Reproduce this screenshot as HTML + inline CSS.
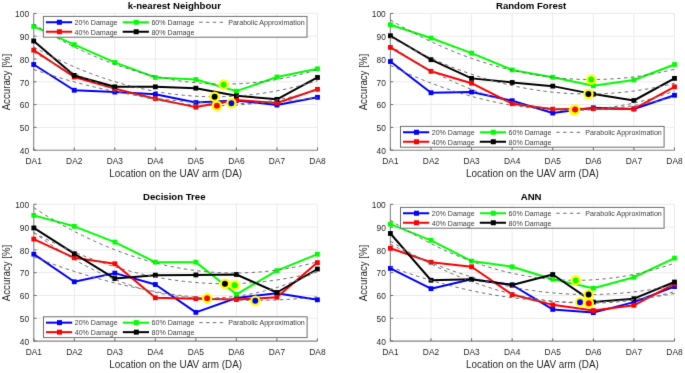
<!DOCTYPE html>
<html><head><meta charset="utf-8"><style>
html,body{margin:0;padding:0;background:#fff;}
body{width:685px;height:373px;overflow:hidden;}
svg{display:block;font-family:"Liberation Sans",sans-serif;}

</style></head><body>
<svg width="685" height="373" viewBox="0 0 685 373">
<defs><filter id="bl" color-interpolation-filters="sRGB" x="0" y="0" width="685" height="373" filterUnits="userSpaceOnUse"><feConvolveMatrix order="3" kernelMatrix="0 1 0 1 8 1 0 1 0" divisor="12" edgeMode="duplicate"/></filter></defs><g filter="url(#bl)"><rect width="685" height="373" fill="#fff"/>
<path d="M33.7 13.4V150.2M74.24 13.4V150.2M114.79 13.4V150.2M155.33 13.4V150.2M195.87 13.4V150.2M236.41 13.4V150.2M276.96 13.4V150.2M317.5 13.4V150.2M33.7 150.2H317.5M33.7 127.4H317.5M33.7 104.6H317.5M33.7 81.8H317.5M33.7 59H317.5M33.7 36.2H317.5M33.7 13.4H317.5" stroke="#ebebeb" stroke-width="1" fill="none"/>
<path d="M33.7 13.4V150.2H317.5" stroke="#8a8a8a" stroke-width="1.1" fill="none"/>
<path d="M33.7 150.2v-2.8M74.24 150.2v-2.8M114.79 150.2v-2.8M155.33 150.2v-2.8M195.87 150.2v-2.8M236.41 150.2v-2.8M276.96 150.2v-2.8M317.5 150.2v-2.8M33.7 150.2h2.8M33.7 127.4h2.8M33.7 104.6h2.8M33.7 81.8h2.8M33.7 59h2.8M33.7 36.2h2.8M33.7 13.4h2.8" stroke="#6a6a6a" stroke-width="1" fill="none"/>
<g fill="#262626"><text transform="translate(29.1 153.9) scale(1 1.14)" font-size="8.4" text-anchor="end">40</text><text transform="translate(29.1 131.1) scale(1 1.14)" font-size="8.4" text-anchor="end">50</text><text transform="translate(29.1 108.3) scale(1 1.14)" font-size="8.4" text-anchor="end">60</text><text transform="translate(29.1 85.5) scale(1 1.14)" font-size="8.4" text-anchor="end">70</text><text transform="translate(29.1 62.7) scale(1 1.14)" font-size="8.4" text-anchor="end">80</text><text transform="translate(29.1 39.9) scale(1 1.14)" font-size="8.4" text-anchor="end">90</text><text transform="translate(29.1 17.1) scale(1 1.14)" font-size="8.4" text-anchor="end">100</text><text transform="translate(33.7 163.6) scale(1 1.14)" font-size="8.4" text-anchor="middle">DA1</text><text transform="translate(74.24 163.6) scale(1 1.14)" font-size="8.4" text-anchor="middle">DA2</text><text transform="translate(114.79 163.6) scale(1 1.14)" font-size="8.4" text-anchor="middle">DA3</text><text transform="translate(155.33 163.6) scale(1 1.14)" font-size="8.4" text-anchor="middle">DA4</text><text transform="translate(195.87 163.6) scale(1 1.14)" font-size="8.4" text-anchor="middle">DA5</text><text transform="translate(236.41 163.6) scale(1 1.14)" font-size="8.4" text-anchor="middle">DA6</text><text transform="translate(276.96 163.6) scale(1 1.14)" font-size="8.4" text-anchor="middle">DA7</text><text transform="translate(317.5 163.6) scale(1 1.14)" font-size="8.4" text-anchor="middle">DA8</text></g>
<text transform="translate(175.6 177.3) scale(1 1.12)" font-size="9.9" text-anchor="middle" fill="#262626">Location on the UAV arm (DA)</text>
<text transform="translate(10.1 82.1) rotate(-90) scale(1 1.12)" text-anchor="middle" font-size="9.7" fill="#262626">Accuracy [%]</text>
<text x="174.3" y="9.2" text-anchor="middle" font-size="9.6" font-weight="bold" fill="#000">k-nearest Neighbour</text>
<polyline points="33.7,64.47 74.24,90.24 114.79,92.06 155.33,94.34 195.87,102.55 236.41,100.5 276.96,105.06 317.5,97.3" stroke="#0000ff" stroke-width="2.0" fill="none" stroke-linejoin="round"/>
<rect x="31.3" y="62.07" width="4.8" height="4.8" fill="#0000ff"/><rect x="71.84" y="87.84" width="4.8" height="4.8" fill="#0000ff"/><rect x="112.39" y="89.66" width="4.8" height="4.8" fill="#0000ff"/><rect x="152.93" y="91.94" width="4.8" height="4.8" fill="#0000ff"/><rect x="193.47" y="100.15" width="4.8" height="4.8" fill="#0000ff"/><rect x="234.01" y="98.1" width="4.8" height="4.8" fill="#0000ff"/><rect x="274.56" y="102.66" width="4.8" height="4.8" fill="#0000ff"/><rect x="315.1" y="94.9" width="4.8" height="4.8" fill="#0000ff"/>
<polyline points="33.7,50.11 74.24,77.01 114.79,88.64 155.33,98.67 195.87,107.11 236.41,100.04 276.96,103 317.5,89.32" stroke="#ff0000" stroke-width="2.0" fill="none" stroke-linejoin="round"/>
<rect x="31.3" y="47.71" width="4.8" height="4.8" fill="#ff0000"/><rect x="71.84" y="74.61" width="4.8" height="4.8" fill="#ff0000"/><rect x="112.39" y="86.24" width="4.8" height="4.8" fill="#ff0000"/><rect x="152.93" y="96.27" width="4.8" height="4.8" fill="#ff0000"/><rect x="193.47" y="104.71" width="4.8" height="4.8" fill="#ff0000"/><rect x="234.01" y="97.64" width="4.8" height="4.8" fill="#ff0000"/><rect x="274.56" y="100.6" width="4.8" height="4.8" fill="#ff0000"/><rect x="315.1" y="86.92" width="4.8" height="4.8" fill="#ff0000"/>
<polyline points="33.7,26.4 74.24,44.64 114.79,62.42 155.33,77.47 195.87,79.52 236.41,91.15 276.96,77.01 317.5,68.8" stroke="#00ff00" stroke-width="2.0" fill="none" stroke-linejoin="round"/>
<rect x="31.3" y="24" width="4.8" height="4.8" fill="#00ff00"/><rect x="71.84" y="42.24" width="4.8" height="4.8" fill="#00ff00"/><rect x="112.39" y="60.02" width="4.8" height="4.8" fill="#00ff00"/><rect x="152.93" y="75.07" width="4.8" height="4.8" fill="#00ff00"/><rect x="193.47" y="77.12" width="4.8" height="4.8" fill="#00ff00"/><rect x="234.01" y="88.75" width="4.8" height="4.8" fill="#00ff00"/><rect x="274.56" y="74.61" width="4.8" height="4.8" fill="#00ff00"/><rect x="315.1" y="66.4" width="4.8" height="4.8" fill="#00ff00"/>
<polyline points="33.7,40.99 74.24,75.42 114.79,86.82 155.33,86.82 195.87,88.18 236.41,95.71 276.96,99.36 317.5,77.47" stroke="#000000" stroke-width="2.0" fill="none" stroke-linejoin="round"/>
<rect x="31.3" y="38.59" width="4.8" height="4.8" fill="#000000"/><rect x="71.84" y="73.02" width="4.8" height="4.8" fill="#000000"/><rect x="112.39" y="84.42" width="4.8" height="4.8" fill="#000000"/><rect x="152.93" y="84.42" width="4.8" height="4.8" fill="#000000"/><rect x="193.47" y="85.78" width="4.8" height="4.8" fill="#000000"/><rect x="234.01" y="93.31" width="4.8" height="4.8" fill="#000000"/><rect x="274.56" y="96.96" width="4.8" height="4.8" fill="#000000"/><rect x="315.1" y="75.07" width="4.8" height="4.8" fill="#000000"/>
<polyline points="33.7,69.49 37.75,70.85 41.81,72.19 45.86,73.5 49.92,74.78 53.97,76.03 58.03,77.26 62.08,78.45 66.13,79.62 70.19,80.76 74.24,81.88 78.3,82.96 82.35,84.02 86.41,85.05 90.46,86.05 94.51,87.02 98.57,87.97 102.62,88.89 106.68,89.78 110.73,90.64 114.79,91.47 118.84,92.28 122.89,93.06 126.95,93.81 131,94.53 135.06,95.23 139.11,95.89 143.17,96.53 147.22,97.14 151.27,97.73 155.33,98.28 159.38,98.81 163.44,99.31 167.49,99.78 171.55,100.22 175.6,100.64 179.65,101.03 183.71,101.39 187.76,101.72 191.82,102.02 195.87,102.3 199.93,102.55 203.98,102.77 208.03,102.96 212.09,103.12 216.14,103.26 220.2,103.37 224.25,103.45 228.31,103.5 232.36,103.53 236.41,103.53 240.47,103.49 244.52,103.44 248.58,103.35 252.63,103.23 256.69,103.09 260.74,102.92 264.79,102.72 268.85,102.5 272.9,102.24 276.96,101.96 281.01,101.65 285.07,101.31 289.12,100.95 293.17,100.56 297.23,100.13 301.28,99.68 305.34,99.21 309.39,98.7 313.45,98.17 317.5,97.61" stroke="#6b6b6b" stroke-width="1.0" stroke-dasharray="3.4 3.4" fill="none"/>
<polyline points="33.7,52.32 37.75,54.66 41.81,56.94 45.86,59.17 49.92,61.35 53.97,63.47 58.03,65.55 62.08,67.57 66.13,69.54 70.19,71.45 74.24,73.32 78.3,75.13 82.35,76.89 86.41,78.6 90.46,80.26 94.51,81.86 98.57,83.41 102.62,84.91 106.68,86.36 110.73,87.75 114.79,89.09 118.84,90.38 122.89,91.62 126.95,92.8 131,93.94 135.06,95.02 139.11,96.05 143.17,97.02 147.22,97.95 151.27,98.82 155.33,99.64 159.38,100.41 163.44,101.12 167.49,101.79 171.55,102.4 175.6,102.95 179.65,103.46 183.71,103.91 187.76,104.32 191.82,104.67 195.87,104.96 199.93,105.21 203.98,105.4 208.03,105.54 212.09,105.63 216.14,105.66 220.2,105.65 224.25,105.58 228.31,105.46 232.36,105.29 236.41,105.06 240.47,104.78 244.52,104.45 248.58,104.07 252.63,103.64 256.69,103.15 260.74,102.61 264.79,102.02 268.85,101.38 272.9,100.68 276.96,99.93 281.01,99.13 285.07,98.28 289.12,97.38 293.17,96.42 297.23,95.41 301.28,94.35 305.34,93.23 309.39,92.07 313.45,90.85 317.5,89.58" stroke="#6b6b6b" stroke-width="1.0" stroke-dasharray="3.4 3.4" fill="none"/>
<polyline points="33.7,24.07 37.75,26.6 41.81,29.08 45.86,31.5 49.92,33.86 53.97,36.18 58.03,38.43 62.08,40.64 66.13,42.79 70.19,44.88 74.24,46.92 78.3,48.91 82.35,50.84 86.41,52.72 90.46,54.54 94.51,56.31 98.57,58.02 102.62,59.68 106.68,61.28 110.73,62.83 114.79,64.33 118.84,65.77 122.89,67.16 126.95,68.49 131,69.77 135.06,70.99 139.11,72.16 143.17,73.27 147.22,74.33 151.27,75.34 155.33,76.29 159.38,77.18 163.44,78.03 167.49,78.81 171.55,79.55 175.6,80.23 179.65,80.85 183.71,81.42 187.76,81.93 191.82,82.39 195.87,82.8 199.93,83.15 203.98,83.45 208.03,83.69 212.09,83.88 216.14,84.01 220.2,84.09 224.25,84.12 228.31,84.09 232.36,84 236.41,83.86 240.47,83.67 244.52,83.42 248.58,83.12 252.63,82.76 256.69,82.35 260.74,81.89 264.79,81.37 268.85,80.79 272.9,80.16 276.96,79.48 281.01,78.74 285.07,77.95 289.12,77.1 293.17,76.2 297.23,75.25 301.28,74.24 305.34,73.17 309.39,72.05 313.45,70.88 317.5,69.65" stroke="#6b6b6b" stroke-width="1.0" stroke-dasharray="3.4 3.4" fill="none"/>
<polyline points="33.7,47.11 37.75,49.31 41.81,51.45 45.86,53.55 49.92,55.6 53.97,57.6 58.03,59.55 62.08,61.45 66.13,63.3 70.19,65.1 74.24,66.86 78.3,68.56 82.35,70.21 86.41,71.81 90.46,73.36 94.51,74.86 98.57,76.31 102.62,77.71 106.68,79.07 110.73,80.37 114.79,81.62 118.84,82.82 122.89,83.98 126.95,85.08 131,86.13 135.06,87.13 139.11,88.09 143.17,88.99 147.22,89.85 151.27,90.65 155.33,91.4 159.38,92.11 163.44,92.76 167.49,93.37 171.55,93.92 175.6,94.43 179.65,94.88 183.71,95.29 187.76,95.64 191.82,95.95 195.87,96.2 199.93,96.41 203.98,96.56 208.03,96.67 212.09,96.73 216.14,96.73 220.2,96.69 224.25,96.6 228.31,96.45 232.36,96.26 236.41,96.02 240.47,95.72 244.52,95.38 248.58,94.99 252.63,94.55 256.69,94.06 260.74,93.51 264.79,92.92 268.85,92.28 272.9,91.59 276.96,90.85 281.01,90.06 285.07,89.22 289.12,88.33 293.17,87.39 297.23,86.4 301.28,85.36 305.34,84.27 309.39,83.13 313.45,81.94 317.5,80.7" stroke="#6b6b6b" stroke-width="1.0" stroke-dasharray="3.4 3.4" fill="none"/>
<circle cx="231.4" cy="103.3" r="4.1" fill="#0000ff" stroke="#ffff00" stroke-width="2.3"/>
<circle cx="216.9" cy="105.67" r="4.1" fill="#ff0000" stroke="#ffff00" stroke-width="2.3"/>
<circle cx="223.6" cy="84.6" r="4.1" fill="#00ff00" stroke="#ffff00" stroke-width="2.3"/>
<circle cx="214.64" cy="96.74" r="4.1" fill="#000000" stroke="#ffff00" stroke-width="2.3"/>
<rect x="43.4" y="16.4" width="263.6" height="20.8" fill="#fff" stroke="#6e6e6e" stroke-width="1"/><path d="M45.9 22.25h26.2" stroke="#0000ff" stroke-width="2.0"/><rect x="56.9" y="19.75" width="5" height="5" fill="#0000ff"/><text class="lg" transform="translate(74.6 25.05) scale(1 1.07)" font-size="7.1" fill="#3c3c3c">20% Damage</text><path d="M45.9 31.75h26.2" stroke="#ff0000" stroke-width="2.0"/><rect x="56.9" y="29.25" width="5" height="5" fill="#ff0000"/><text class="lg" transform="translate(74.6 34.55) scale(1 1.07)" font-size="7.1" fill="#3c3c3c">40% Damage</text><path d="M122.7 22.25h26.2" stroke="#00ff00" stroke-width="2.0"/><rect x="133.7" y="19.75" width="5" height="5" fill="#00ff00"/><text class="lg" transform="translate(151.4 25.05) scale(1 1.07)" font-size="7.1" fill="#3c3c3c">60% Damage</text><path d="M122.7 31.75h26.2" stroke="#000000" stroke-width="2.0"/><rect x="133.7" y="29.25" width="5" height="5" fill="#000000"/><text class="lg" transform="translate(151.4 34.55) scale(1 1.07)" font-size="7.1" fill="#3c3c3c">80% Damage</text><path d="M199.2 22.25h24.6" stroke="#6b6b6b" stroke-width="1.0" stroke-dasharray="3.4 3.4"/><text class="lg" transform="translate(228.2 25.05) scale(1 1.07)" font-size="7.1" fill="#3c3c3c">Parabolic Approximation</text>
<path d="M390.4 13.4V150.2M430.99 13.4V150.2M471.57 13.4V150.2M512.16 13.4V150.2M552.74 13.4V150.2M593.33 13.4V150.2M633.91 13.4V150.2M674.5 13.4V150.2M390.4 150.2H674.5M390.4 127.4H674.5M390.4 104.6H674.5M390.4 81.8H674.5M390.4 59H674.5M390.4 36.2H674.5M390.4 13.4H674.5" stroke="#ebebeb" stroke-width="1" fill="none"/>
<path d="M390.4 13.4V150.2H674.5" stroke="#8a8a8a" stroke-width="1.1" fill="none"/>
<path d="M390.4 150.2v-2.8M430.99 150.2v-2.8M471.57 150.2v-2.8M512.16 150.2v-2.8M552.74 150.2v-2.8M593.33 150.2v-2.8M633.91 150.2v-2.8M674.5 150.2v-2.8M390.4 150.2h2.8M390.4 127.4h2.8M390.4 104.6h2.8M390.4 81.8h2.8M390.4 59h2.8M390.4 36.2h2.8M390.4 13.4h2.8" stroke="#6a6a6a" stroke-width="1" fill="none"/>
<g fill="#262626"><text transform="translate(385.8 153.9) scale(1 1.14)" font-size="8.4" text-anchor="end">40</text><text transform="translate(385.8 131.1) scale(1 1.14)" font-size="8.4" text-anchor="end">50</text><text transform="translate(385.8 108.3) scale(1 1.14)" font-size="8.4" text-anchor="end">60</text><text transform="translate(385.8 85.5) scale(1 1.14)" font-size="8.4" text-anchor="end">70</text><text transform="translate(385.8 62.7) scale(1 1.14)" font-size="8.4" text-anchor="end">80</text><text transform="translate(385.8 39.9) scale(1 1.14)" font-size="8.4" text-anchor="end">90</text><text transform="translate(385.8 17.1) scale(1 1.14)" font-size="8.4" text-anchor="end">100</text><text transform="translate(390.4 163.6) scale(1 1.14)" font-size="8.4" text-anchor="middle">DA1</text><text transform="translate(430.99 163.6) scale(1 1.14)" font-size="8.4" text-anchor="middle">DA2</text><text transform="translate(471.57 163.6) scale(1 1.14)" font-size="8.4" text-anchor="middle">DA3</text><text transform="translate(512.16 163.6) scale(1 1.14)" font-size="8.4" text-anchor="middle">DA4</text><text transform="translate(552.74 163.6) scale(1 1.14)" font-size="8.4" text-anchor="middle">DA5</text><text transform="translate(593.33 163.6) scale(1 1.14)" font-size="8.4" text-anchor="middle">DA6</text><text transform="translate(633.91 163.6) scale(1 1.14)" font-size="8.4" text-anchor="middle">DA7</text><text transform="translate(674.5 163.6) scale(1 1.14)" font-size="8.4" text-anchor="middle">DA8</text></g>
<text transform="translate(532.45 177.3) scale(1 1.12)" font-size="9.9" text-anchor="middle" fill="#262626">Location on the UAV arm (DA)</text>
<text transform="translate(366.8 82.1) rotate(-90) scale(1 1.12)" text-anchor="middle" font-size="9.7" fill="#262626">Accuracy [%]</text>
<text x="531.15" y="9.2" text-anchor="middle" font-size="9.6" font-weight="bold" fill="#000">Random Forest</text>
<polyline points="390.4,61.51 430.99,92.74 471.57,92.06 512.16,100.72 552.74,113.04 593.33,107.79 633.91,108.93 674.5,95.25" stroke="#0000ff" stroke-width="2.0" fill="none" stroke-linejoin="round"/>
<rect x="388" y="59.11" width="4.8" height="4.8" fill="#0000ff"/><rect x="428.59" y="90.34" width="4.8" height="4.8" fill="#0000ff"/><rect x="469.17" y="89.66" width="4.8" height="4.8" fill="#0000ff"/><rect x="509.76" y="98.32" width="4.8" height="4.8" fill="#0000ff"/><rect x="550.34" y="110.64" width="4.8" height="4.8" fill="#0000ff"/><rect x="590.93" y="105.39" width="4.8" height="4.8" fill="#0000ff"/><rect x="631.51" y="106.53" width="4.8" height="4.8" fill="#0000ff"/><rect x="672.1" y="92.85" width="4.8" height="4.8" fill="#0000ff"/>
<polyline points="390.4,47.37 430.99,71.31 471.57,83.17 512.16,103.69 552.74,109.16 593.33,108.7 633.91,108.93 674.5,86.82" stroke="#ff0000" stroke-width="2.0" fill="none" stroke-linejoin="round"/>
<rect x="388" y="44.97" width="4.8" height="4.8" fill="#ff0000"/><rect x="428.59" y="68.91" width="4.8" height="4.8" fill="#ff0000"/><rect x="469.17" y="80.77" width="4.8" height="4.8" fill="#ff0000"/><rect x="509.76" y="101.29" width="4.8" height="4.8" fill="#ff0000"/><rect x="550.34" y="106.76" width="4.8" height="4.8" fill="#ff0000"/><rect x="590.93" y="106.3" width="4.8" height="4.8" fill="#ff0000"/><rect x="631.51" y="106.53" width="4.8" height="4.8" fill="#ff0000"/><rect x="672.1" y="84.42" width="4.8" height="4.8" fill="#ff0000"/>
<polyline points="390.4,24.8 430.99,38.02 471.57,53.07 512.16,69.94 552.74,77.24 593.33,85.68 633.91,79.98 674.5,64.47" stroke="#00ff00" stroke-width="2.0" fill="none" stroke-linejoin="round"/>
<rect x="388" y="22.4" width="4.8" height="4.8" fill="#00ff00"/><rect x="428.59" y="35.62" width="4.8" height="4.8" fill="#00ff00"/><rect x="469.17" y="50.67" width="4.8" height="4.8" fill="#00ff00"/><rect x="509.76" y="67.54" width="4.8" height="4.8" fill="#00ff00"/><rect x="550.34" y="74.84" width="4.8" height="4.8" fill="#00ff00"/><rect x="590.93" y="83.28" width="4.8" height="4.8" fill="#00ff00"/><rect x="631.51" y="77.58" width="4.8" height="4.8" fill="#00ff00"/><rect x="672.1" y="62.07" width="4.8" height="4.8" fill="#00ff00"/>
<polyline points="390.4,35.74 430.99,59.68 471.57,78.38 512.16,82.48 552.74,86.13 593.33,94.11 633.91,100.5 674.5,78.38" stroke="#000000" stroke-width="2.0" fill="none" stroke-linejoin="round"/>
<rect x="388" y="33.34" width="4.8" height="4.8" fill="#000000"/><rect x="428.59" y="57.28" width="4.8" height="4.8" fill="#000000"/><rect x="469.17" y="75.98" width="4.8" height="4.8" fill="#000000"/><rect x="509.76" y="80.08" width="4.8" height="4.8" fill="#000000"/><rect x="550.34" y="83.73" width="4.8" height="4.8" fill="#000000"/><rect x="590.93" y="91.71" width="4.8" height="4.8" fill="#000000"/><rect x="631.51" y="98.1" width="4.8" height="4.8" fill="#000000"/><rect x="672.1" y="75.98" width="4.8" height="4.8" fill="#000000"/>
<polyline points="390.4,65.42 394.46,67.39 398.52,69.31 402.58,71.19 406.63,73.02 410.69,74.81 414.75,76.55 418.81,78.26 422.87,79.91 426.93,81.53 430.99,83.1 435.04,84.62 439.1,86.1 443.16,87.54 447.22,88.94 451.28,90.29 455.34,91.59 459.4,92.85 463.45,94.07 467.51,95.25 471.57,96.38 475.63,97.46 479.69,98.5 483.75,99.5 487.81,100.46 491.86,101.37 495.92,102.23 499.98,103.05 504.04,103.83 508.1,104.57 512.16,105.26 516.22,105.9 520.27,106.51 524.33,107.06 528.39,107.58 532.45,108.05 536.51,108.47 540.57,108.86 544.63,109.2 548.68,109.49 552.74,109.74 556.8,109.95 560.86,110.11 564.92,110.23 568.98,110.3 573.04,110.33 577.09,110.32 581.15,110.26 585.21,110.16 589.27,110.02 593.33,109.83 597.39,109.59 601.45,109.32 605.5,109 609.56,108.63 613.62,108.22 617.68,107.77 621.74,107.27 625.8,106.73 629.86,106.15 633.91,105.52 637.97,104.84 642.03,104.13 646.09,103.37 650.15,102.56 654.21,101.71 658.27,100.82 662.32,99.88 666.38,98.9 670.44,97.88 674.5,96.81" stroke="#6b6b6b" stroke-width="1.0" stroke-dasharray="3.4 3.4" fill="none"/>
<polyline points="390.4,45.45 394.46,48.24 398.52,50.97 402.58,53.63 406.63,56.23 410.69,58.77 414.75,61.25 418.81,63.66 422.87,66.02 426.93,68.31 430.99,70.54 435.04,72.71 439.1,74.81 443.16,76.86 447.22,78.84 451.28,80.76 455.34,82.62 459.4,84.41 463.45,86.15 467.51,87.82 471.57,89.43 475.63,90.98 479.69,92.46 483.75,93.89 487.81,95.25 491.86,96.55 495.92,97.79 499.98,98.97 504.04,100.08 508.1,101.14 512.16,102.13 516.22,103.06 520.27,103.92 524.33,104.73 528.39,105.47 532.45,106.15 536.51,106.77 540.57,107.33 544.63,107.83 548.68,108.26 552.74,108.63 556.8,108.94 560.86,109.19 564.92,109.37 568.98,109.5 573.04,109.56 577.09,109.56 581.15,109.5 585.21,109.37 589.27,109.19 593.33,108.94 597.39,108.63 601.45,108.26 605.5,107.83 609.56,107.33 613.62,106.77 617.68,106.15 621.74,105.47 625.8,104.73 629.86,103.92 633.91,103.06 637.97,102.13 642.03,101.14 646.09,100.08 650.15,98.97 654.21,97.79 658.27,96.55 662.32,95.25 666.38,93.89 670.44,92.46 674.5,90.98" stroke="#6b6b6b" stroke-width="1.0" stroke-dasharray="3.4 3.4" fill="none"/>
<polyline points="390.4,19.91 394.46,22.29 398.52,24.63 402.58,26.92 406.63,29.16 410.69,31.35 414.75,33.49 418.81,35.59 422.87,37.63 426.93,39.63 430.99,41.58 435.04,43.48 439.1,45.33 443.16,47.13 447.22,48.88 451.28,50.59 455.34,52.24 459.4,53.85 463.45,55.41 467.51,56.92 471.57,58.38 475.63,59.79 479.69,61.15 483.75,62.47 487.81,63.73 491.86,64.95 495.92,66.12 499.98,67.24 504.04,68.31 508.1,69.33 512.16,70.3 516.22,71.23 520.27,72.1 524.33,72.93 528.39,73.71 532.45,74.44 536.51,75.12 540.57,75.75 544.63,76.34 548.68,76.87 552.74,77.36 556.8,77.8 560.86,78.18 564.92,78.52 568.98,78.82 573.04,79.06 577.09,79.25 581.15,79.4 585.21,79.49 589.27,79.54 593.33,79.54 597.39,79.49 601.45,79.39 605.5,79.24 609.56,79.05 613.62,78.8 617.68,78.51 621.74,78.17 625.8,77.78 629.86,77.34 633.91,76.85 637.97,76.31 642.03,75.73 646.09,75.09 650.15,74.41 654.21,73.68 658.27,72.9 662.32,72.07 666.38,71.19 670.44,70.26 674.5,69.29" stroke="#6b6b6b" stroke-width="1.0" stroke-dasharray="3.4 3.4" fill="none"/>
<polyline points="390.4,37.14 394.46,39.45 398.52,41.71 402.58,43.92 406.63,46.08 410.69,48.2 414.75,50.27 418.81,52.29 422.87,54.26 426.93,56.19 430.99,58.07 435.04,59.9 439.1,61.68 443.16,63.41 447.22,65.1 451.28,66.74 455.34,68.33 459.4,69.87 463.45,71.37 467.51,72.82 471.57,74.21 475.63,75.57 479.69,76.87 483.75,78.13 487.81,79.34 491.86,80.5 495.92,81.61 499.98,82.67 504.04,83.69 508.1,84.66 512.16,85.58 516.22,86.46 520.27,87.28 524.33,88.06 528.39,88.79 532.45,89.47 536.51,90.11 540.57,90.7 544.63,91.23 548.68,91.73 552.74,92.17 556.8,92.57 560.86,92.91 564.92,93.21 568.98,93.47 573.04,93.67 577.09,93.83 581.15,93.94 585.21,94 589.27,94.01 593.33,93.98 597.39,93.9 601.45,93.77 605.5,93.59 609.56,93.36 613.62,93.09 617.68,92.77 621.74,92.4 625.8,91.98 629.86,91.52 633.91,91.01 637.97,90.45 642.03,89.84 646.09,89.18 650.15,88.48 654.21,87.73 658.27,86.93 662.32,86.08 666.38,85.19 670.44,84.24 674.5,83.25" stroke="#6b6b6b" stroke-width="1.0" stroke-dasharray="3.4 3.4" fill="none"/>
<circle cx="573.84" cy="110.33" r="4.1" fill="#0000ff" stroke="#ffff00" stroke-width="2.3"/>
<circle cx="575.06" cy="109.57" r="4.1" fill="#ff0000" stroke="#ffff00" stroke-width="2.3"/>
<circle cx="591.21" cy="79.55" r="4.1" fill="#00ff00" stroke="#ffff00" stroke-width="2.3"/>
<circle cx="588.38" cy="94.01" r="4.1" fill="#000000" stroke="#ffff00" stroke-width="2.3"/>
<rect x="400.5" y="126.4" width="263.6" height="20.8" fill="#fff" stroke="#6e6e6e" stroke-width="1"/><path d="M403 132.25h26.2" stroke="#0000ff" stroke-width="2.0"/><rect x="414" y="129.75" width="5" height="5" fill="#0000ff"/><text class="lg" transform="translate(431.7 135.05) scale(1 1.07)" font-size="7.1" fill="#3c3c3c">20% Damage</text><path d="M403 141.75h26.2" stroke="#ff0000" stroke-width="2.0"/><rect x="414" y="139.25" width="5" height="5" fill="#ff0000"/><text class="lg" transform="translate(431.7 144.55) scale(1 1.07)" font-size="7.1" fill="#3c3c3c">40% Damage</text><path d="M479.8 132.25h26.2" stroke="#00ff00" stroke-width="2.0"/><rect x="490.8" y="129.75" width="5" height="5" fill="#00ff00"/><text class="lg" transform="translate(508.5 135.05) scale(1 1.07)" font-size="7.1" fill="#3c3c3c">60% Damage</text><path d="M479.8 141.75h26.2" stroke="#000000" stroke-width="2.0"/><rect x="490.8" y="139.25" width="5" height="5" fill="#000000"/><text class="lg" transform="translate(508.5 144.55) scale(1 1.07)" font-size="7.1" fill="#3c3c3c">80% Damage</text><path d="M556.3 132.25h24.6" stroke="#6b6b6b" stroke-width="1.0" stroke-dasharray="3.4 3.4"/><text class="lg" transform="translate(585.3 135.05) scale(1 1.07)" font-size="7.1" fill="#3c3c3c">Parabolic Approximation</text>
<path d="M33.8 204.2V341.1M74.31 204.2V341.1M114.83 204.2V341.1M155.34 204.2V341.1M195.86 204.2V341.1M236.37 204.2V341.1M276.89 204.2V341.1M317.4 204.2V341.1M33.8 341.1H317.4M33.8 318.28H317.4M33.8 295.47H317.4M33.8 272.65H317.4M33.8 249.83H317.4M33.8 227.02H317.4M33.8 204.2H317.4" stroke="#ebebeb" stroke-width="1" fill="none"/>
<path d="M33.8 204.2V341.1H317.4" stroke="#8a8a8a" stroke-width="1.1" fill="none"/>
<path d="M33.8 341.1v-2.8M74.31 341.1v-2.8M114.83 341.1v-2.8M155.34 341.1v-2.8M195.86 341.1v-2.8M236.37 341.1v-2.8M276.89 341.1v-2.8M317.4 341.1v-2.8M33.8 341.1h2.8M33.8 318.28h2.8M33.8 295.47h2.8M33.8 272.65h2.8M33.8 249.83h2.8M33.8 227.02h2.8M33.8 204.2h2.8" stroke="#6a6a6a" stroke-width="1" fill="none"/>
<g fill="#262626"><text transform="translate(29.2 344.8) scale(1 1.14)" font-size="8.4" text-anchor="end">40</text><text transform="translate(29.2 321.98) scale(1 1.14)" font-size="8.4" text-anchor="end">50</text><text transform="translate(29.2 299.17) scale(1 1.14)" font-size="8.4" text-anchor="end">60</text><text transform="translate(29.2 276.35) scale(1 1.14)" font-size="8.4" text-anchor="end">70</text><text transform="translate(29.2 253.53) scale(1 1.14)" font-size="8.4" text-anchor="end">80</text><text transform="translate(29.2 230.72) scale(1 1.14)" font-size="8.4" text-anchor="end">90</text><text transform="translate(29.2 207.9) scale(1 1.14)" font-size="8.4" text-anchor="end">100</text><text transform="translate(33.8 354.5) scale(1 1.14)" font-size="8.4" text-anchor="middle">DA1</text><text transform="translate(74.31 354.5) scale(1 1.14)" font-size="8.4" text-anchor="middle">DA2</text><text transform="translate(114.83 354.5) scale(1 1.14)" font-size="8.4" text-anchor="middle">DA3</text><text transform="translate(155.34 354.5) scale(1 1.14)" font-size="8.4" text-anchor="middle">DA4</text><text transform="translate(195.86 354.5) scale(1 1.14)" font-size="8.4" text-anchor="middle">DA5</text><text transform="translate(236.37 354.5) scale(1 1.14)" font-size="8.4" text-anchor="middle">DA6</text><text transform="translate(276.89 354.5) scale(1 1.14)" font-size="8.4" text-anchor="middle">DA7</text><text transform="translate(317.4 354.5) scale(1 1.14)" font-size="8.4" text-anchor="middle">DA8</text></g>
<text transform="translate(175.6 368.2) scale(1 1.12)" font-size="9.9" text-anchor="middle" fill="#262626">Location on the UAV arm (DA)</text>
<text transform="translate(10.2 272.95) rotate(-90) scale(1 1.12)" text-anchor="middle" font-size="9.7" fill="#262626">Accuracy [%]</text>
<text x="174.3" y="200" text-anchor="middle" font-size="9.6" font-weight="bold" fill="#000">Decision Tree</text>
<polyline points="33.8,254.17 74.31,281.78 114.83,273.11 155.34,284.51 195.86,312.35 236.37,297.98 276.89,293.19 317.4,299.8" stroke="#0000ff" stroke-width="2.0" fill="none" stroke-linejoin="round"/>
<rect x="31.4" y="251.77" width="4.8" height="4.8" fill="#0000ff"/><rect x="71.91" y="279.38" width="4.8" height="4.8" fill="#0000ff"/><rect x="112.43" y="270.71" width="4.8" height="4.8" fill="#0000ff"/><rect x="152.94" y="282.11" width="4.8" height="4.8" fill="#0000ff"/><rect x="193.46" y="309.95" width="4.8" height="4.8" fill="#0000ff"/><rect x="233.97" y="295.58" width="4.8" height="4.8" fill="#0000ff"/><rect x="274.49" y="290.79" width="4.8" height="4.8" fill="#0000ff"/><rect x="315" y="297.4" width="4.8" height="4.8" fill="#0000ff"/>
<polyline points="33.8,239.11 74.31,257.82 114.83,263.75 155.34,297.75 195.86,298.66 236.37,299.57 276.89,297.29 317.4,262.61" stroke="#ff0000" stroke-width="2.0" fill="none" stroke-linejoin="round"/>
<rect x="31.4" y="236.71" width="4.8" height="4.8" fill="#ff0000"/><rect x="71.91" y="255.42" width="4.8" height="4.8" fill="#ff0000"/><rect x="112.43" y="261.35" width="4.8" height="4.8" fill="#ff0000"/><rect x="152.94" y="295.35" width="4.8" height="4.8" fill="#ff0000"/><rect x="193.46" y="296.26" width="4.8" height="4.8" fill="#ff0000"/><rect x="233.97" y="297.17" width="4.8" height="4.8" fill="#ff0000"/><rect x="274.49" y="294.89" width="4.8" height="4.8" fill="#ff0000"/><rect x="315" y="260.21" width="4.8" height="4.8" fill="#ff0000"/>
<polyline points="33.8,215.38 74.31,226.33 114.83,242.08 155.34,262.15 195.86,262.15 236.37,294.33 276.89,270.6 317.4,254.17" stroke="#00ff00" stroke-width="2.0" fill="none" stroke-linejoin="round"/>
<rect x="31.4" y="212.98" width="4.8" height="4.8" fill="#00ff00"/><rect x="71.91" y="223.93" width="4.8" height="4.8" fill="#00ff00"/><rect x="112.43" y="239.68" width="4.8" height="4.8" fill="#00ff00"/><rect x="152.94" y="259.75" width="4.8" height="4.8" fill="#00ff00"/><rect x="193.46" y="259.75" width="4.8" height="4.8" fill="#00ff00"/><rect x="233.97" y="291.93" width="4.8" height="4.8" fill="#00ff00"/><rect x="274.49" y="268.2" width="4.8" height="4.8" fill="#00ff00"/><rect x="315" y="251.77" width="4.8" height="4.8" fill="#00ff00"/>
<polyline points="33.8,227.93 74.31,253.71 114.83,278.58 155.34,275.16 195.86,274.93 236.37,274.48 276.89,292.5 317.4,269" stroke="#000000" stroke-width="2.0" fill="none" stroke-linejoin="round"/>
<rect x="31.4" y="225.53" width="4.8" height="4.8" fill="#000000"/><rect x="71.91" y="251.31" width="4.8" height="4.8" fill="#000000"/><rect x="112.43" y="276.18" width="4.8" height="4.8" fill="#000000"/><rect x="152.94" y="272.76" width="4.8" height="4.8" fill="#000000"/><rect x="193.46" y="272.53" width="4.8" height="4.8" fill="#000000"/><rect x="233.97" y="272.08" width="4.8" height="4.8" fill="#000000"/><rect x="274.49" y="290.1" width="4.8" height="4.8" fill="#000000"/><rect x="315" y="266.6" width="4.8" height="4.8" fill="#000000"/>
<polyline points="33.8,256.95 37.85,258.53 41.9,260.08 45.95,261.59 50.01,263.08 54.06,264.54 58.11,265.97 62.16,267.37 66.21,268.74 70.26,270.09 74.31,271.4 78.37,272.68 82.42,273.94 86.47,275.16 90.52,276.36 94.57,277.53 98.62,278.67 102.67,279.78 106.73,280.86 110.78,281.91 114.83,282.93 118.88,283.92 122.93,284.89 126.98,285.82 131.03,286.73 135.09,287.6 139.14,288.45 143.19,289.27 147.24,290.06 151.29,290.82 155.34,291.55 159.39,292.25 163.45,292.92 167.5,293.56 171.55,294.18 175.6,294.76 179.65,295.32 183.7,295.84 187.75,296.34 191.81,296.81 195.86,297.25 199.91,297.66 203.96,298.04 208.01,298.39 212.06,298.71 216.11,299 220.17,299.27 224.22,299.5 228.27,299.71 232.32,299.89 236.37,300.03 240.42,300.15 244.47,300.24 248.53,300.3 252.58,300.33 256.63,300.33 260.68,300.31 264.73,300.25 268.78,300.17 272.83,300.05 276.89,299.91 280.94,299.73 284.99,299.53 289.04,299.3 293.09,299.04 297.14,298.75 301.19,298.43 305.25,298.08 309.3,297.71 313.35,297.3 317.4,296.86" stroke="#6b6b6b" stroke-width="1.0" stroke-dasharray="3.4 3.4" fill="none"/>
<polyline points="33.8,232.27 37.85,235.32 41.9,238.29 45.95,241.19 50.01,244.02 54.06,246.77 58.11,249.46 62.16,252.07 66.21,254.61 70.26,257.08 74.31,259.47 78.37,261.8 82.42,264.05 86.47,266.23 90.52,268.34 94.57,270.37 98.62,272.34 102.67,274.23 106.73,276.05 110.78,277.8 114.83,279.47 118.88,281.08 122.93,282.61 126.98,284.07 131.03,285.46 135.09,286.77 139.14,288.02 143.19,289.19 147.24,290.29 151.29,291.32 155.34,292.27 159.39,293.16 163.45,293.97 167.5,294.71 171.55,295.38 175.6,295.97 179.65,296.5 183.7,296.95 187.75,297.33 191.81,297.64 195.86,297.87 199.91,298.04 203.96,298.13 208.01,298.15 212.06,298.09 216.11,297.97 220.17,297.77 224.22,297.51 228.27,297.17 232.32,296.75 236.37,296.27 240.42,295.71 244.47,295.08 248.53,294.38 252.58,293.61 256.63,292.77 260.68,291.85 264.73,290.86 268.78,289.8 272.83,288.67 276.89,287.47 280.94,286.19 284.99,284.84 289.04,283.42 293.09,281.93 297.14,280.36 301.19,278.73 305.25,277.02 309.3,275.24 313.35,273.39 317.4,271.46" stroke="#6b6b6b" stroke-width="1.0" stroke-dasharray="3.4 3.4" fill="none"/>
<polyline points="33.8,207.71 37.85,210.32 41.9,212.87 45.95,215.38 50.01,217.83 54.06,220.22 58.11,222.56 62.16,224.85 66.21,227.09 70.26,229.27 74.31,231.4 78.37,233.48 82.42,235.51 86.47,237.48 90.52,239.39 94.57,241.26 98.62,243.07 102.67,244.83 106.73,246.53 110.78,248.18 114.83,249.78 118.88,251.33 122.93,252.82 126.98,254.26 131.03,255.64 135.09,256.97 139.14,258.25 143.19,259.48 147.24,260.65 151.29,261.77 155.34,262.83 159.39,263.85 163.45,264.81 167.5,265.71 171.55,266.57 175.6,267.37 179.65,268.11 183.7,268.81 187.75,269.45 191.81,270.03 195.86,270.57 199.91,271.05 203.96,271.48 208.01,271.85 212.06,272.17 216.11,272.44 220.17,272.65 224.22,272.82 228.27,272.92 232.32,272.98 236.37,272.98 240.42,272.93 244.47,272.82 248.53,272.67 252.58,272.45 256.63,272.19 260.68,271.87 264.73,271.5 268.78,271.08 272.83,270.6 276.89,270.07 280.94,269.49 284.99,268.85 289.04,268.16 293.09,267.42 297.14,266.62 301.19,265.77 305.25,264.87 309.3,263.91 313.35,262.9 317.4,261.84" stroke="#6b6b6b" stroke-width="1.0" stroke-dasharray="3.4 3.4" fill="none"/>
<polyline points="33.8,232.71 37.85,234.85 41.9,236.94 45.95,238.99 50.01,240.99 54.06,242.95 58.11,244.86 62.16,246.72 66.21,248.54 70.26,250.31 74.31,252.04 78.37,253.72 82.42,255.36 86.47,256.95 90.52,258.49 94.57,259.99 98.62,261.44 102.67,262.84 106.73,264.2 110.78,265.52 114.83,266.79 118.88,268.01 122.93,269.19 126.98,270.32 131.03,271.4 135.09,272.44 139.14,273.44 143.19,274.38 147.24,275.28 151.29,276.14 155.34,276.95 159.39,277.72 163.45,278.43 167.5,279.11 171.55,279.73 175.6,280.31 179.65,280.85 183.7,281.34 187.75,281.78 191.81,282.18 195.86,282.53 199.91,282.84 203.96,283.1 208.01,283.31 212.06,283.48 216.11,283.61 220.17,283.68 224.22,283.71 228.27,283.7 232.32,283.64 236.37,283.53 240.42,283.38 244.47,283.18 248.53,282.94 252.58,282.65 256.63,282.31 260.68,281.93 264.73,281.51 268.78,281.03 272.83,280.51 276.89,279.95 280.94,279.34 284.99,278.68 289.04,277.98 293.09,277.23 297.14,276.44 301.19,275.6 305.25,274.72 309.3,273.78 313.35,272.81 317.4,271.78" stroke="#6b6b6b" stroke-width="1.0" stroke-dasharray="3.4 3.4" fill="none"/>
<circle cx="255.3" cy="300.7" r="4.1" fill="#0000ff" stroke="#ffff00" stroke-width="2.3"/>
<circle cx="207.1" cy="298.15" r="4.1" fill="#ff0000" stroke="#ffff00" stroke-width="2.3"/>
<circle cx="234.6" cy="285.2" r="4.1" fill="#00ff00" stroke="#ffff00" stroke-width="2.3"/>
<circle cx="224.95" cy="283.71" r="4.1" fill="#000000" stroke="#ffff00" stroke-width="2.3"/>
<rect x="43.5" y="316.8" width="263.6" height="20.8" fill="#fff" stroke="#6e6e6e" stroke-width="1"/><path d="M46 322.65h26.2" stroke="#0000ff" stroke-width="2.0"/><rect x="57" y="320.15" width="5" height="5" fill="#0000ff"/><text class="lg" transform="translate(74.7 325.45) scale(1 1.07)" font-size="7.1" fill="#3c3c3c">20% Damage</text><path d="M46 332.15h26.2" stroke="#ff0000" stroke-width="2.0"/><rect x="57" y="329.65" width="5" height="5" fill="#ff0000"/><text class="lg" transform="translate(74.7 334.95) scale(1 1.07)" font-size="7.1" fill="#3c3c3c">40% Damage</text><path d="M122.8 322.65h26.2" stroke="#00ff00" stroke-width="2.0"/><rect x="133.8" y="320.15" width="5" height="5" fill="#00ff00"/><text class="lg" transform="translate(151.5 325.45) scale(1 1.07)" font-size="7.1" fill="#3c3c3c">60% Damage</text><path d="M122.8 332.15h26.2" stroke="#000000" stroke-width="2.0"/><rect x="133.8" y="329.65" width="5" height="5" fill="#000000"/><text class="lg" transform="translate(151.5 334.95) scale(1 1.07)" font-size="7.1" fill="#3c3c3c">80% Damage</text><path d="M199.3 322.65h24.6" stroke="#6b6b6b" stroke-width="1.0" stroke-dasharray="3.4 3.4"/><text class="lg" transform="translate(228.3 325.45) scale(1 1.07)" font-size="7.1" fill="#3c3c3c">Parabolic Approximation</text>
<path d="M390.4 204.3V341.1M430.99 204.3V341.1M471.57 204.3V341.1M512.16 204.3V341.1M552.74 204.3V341.1M593.33 204.3V341.1M633.91 204.3V341.1M674.5 204.3V341.1M390.4 341.1H674.5M390.4 318.3H674.5M390.4 295.5H674.5M390.4 272.7H674.5M390.4 249.9H674.5M390.4 227.1H674.5M390.4 204.3H674.5" stroke="#ebebeb" stroke-width="1" fill="none"/>
<path d="M390.4 204.3V341.1H674.5" stroke="#8a8a8a" stroke-width="1.1" fill="none"/>
<path d="M390.4 341.1v-2.8M430.99 341.1v-2.8M471.57 341.1v-2.8M512.16 341.1v-2.8M552.74 341.1v-2.8M593.33 341.1v-2.8M633.91 341.1v-2.8M674.5 341.1v-2.8M390.4 341.1h2.8M390.4 318.3h2.8M390.4 295.5h2.8M390.4 272.7h2.8M390.4 249.9h2.8M390.4 227.1h2.8M390.4 204.3h2.8" stroke="#6a6a6a" stroke-width="1" fill="none"/>
<g fill="#262626"><text transform="translate(385.8 344.8) scale(1 1.14)" font-size="8.4" text-anchor="end">40</text><text transform="translate(385.8 322) scale(1 1.14)" font-size="8.4" text-anchor="end">50</text><text transform="translate(385.8 299.2) scale(1 1.14)" font-size="8.4" text-anchor="end">60</text><text transform="translate(385.8 276.4) scale(1 1.14)" font-size="8.4" text-anchor="end">70</text><text transform="translate(385.8 253.6) scale(1 1.14)" font-size="8.4" text-anchor="end">80</text><text transform="translate(385.8 230.8) scale(1 1.14)" font-size="8.4" text-anchor="end">90</text><text transform="translate(385.8 208) scale(1 1.14)" font-size="8.4" text-anchor="end">100</text><text transform="translate(390.4 354.5) scale(1 1.14)" font-size="8.4" text-anchor="middle">DA1</text><text transform="translate(430.99 354.5) scale(1 1.14)" font-size="8.4" text-anchor="middle">DA2</text><text transform="translate(471.57 354.5) scale(1 1.14)" font-size="8.4" text-anchor="middle">DA3</text><text transform="translate(512.16 354.5) scale(1 1.14)" font-size="8.4" text-anchor="middle">DA4</text><text transform="translate(552.74 354.5) scale(1 1.14)" font-size="8.4" text-anchor="middle">DA5</text><text transform="translate(593.33 354.5) scale(1 1.14)" font-size="8.4" text-anchor="middle">DA6</text><text transform="translate(633.91 354.5) scale(1 1.14)" font-size="8.4" text-anchor="middle">DA7</text><text transform="translate(674.5 354.5) scale(1 1.14)" font-size="8.4" text-anchor="middle">DA8</text></g>
<text transform="translate(532.45 368.2) scale(1 1.12)" font-size="9.9" text-anchor="middle" fill="#262626">Location on the UAV arm (DA)</text>
<text transform="translate(366.8 273) rotate(-90) scale(1 1.12)" text-anchor="middle" font-size="9.7" fill="#262626">Accuracy [%]</text>
<text x="531.15" y="200.1" text-anchor="middle" font-size="9.6" font-weight="bold" fill="#000">ANN</text>
<polyline points="390.4,268.37 430.99,288.66 471.57,279.31 512.16,285.01 552.74,309.41 593.33,312.6 633.91,302.11 674.5,286.61" stroke="#0000ff" stroke-width="2.0" fill="none" stroke-linejoin="round"/>
<rect x="388" y="265.97" width="4.8" height="4.8" fill="#0000ff"/><rect x="428.59" y="286.26" width="4.8" height="4.8" fill="#0000ff"/><rect x="469.17" y="276.91" width="4.8" height="4.8" fill="#0000ff"/><rect x="509.76" y="282.61" width="4.8" height="4.8" fill="#0000ff"/><rect x="550.34" y="307.01" width="4.8" height="4.8" fill="#0000ff"/><rect x="590.93" y="310.2" width="4.8" height="4.8" fill="#0000ff"/><rect x="631.51" y="299.71" width="4.8" height="4.8" fill="#0000ff"/><rect x="672.1" y="284.21" width="4.8" height="4.8" fill="#0000ff"/>
<polyline points="390.4,248.3 430.99,262.21 471.57,266.77 512.16,294.59 552.74,304.85 593.33,310.55 633.91,305.3 674.5,283.87" stroke="#ff0000" stroke-width="2.0" fill="none" stroke-linejoin="round"/>
<rect x="388" y="245.9" width="4.8" height="4.8" fill="#ff0000"/><rect x="428.59" y="259.81" width="4.8" height="4.8" fill="#ff0000"/><rect x="469.17" y="264.37" width="4.8" height="4.8" fill="#ff0000"/><rect x="509.76" y="292.19" width="4.8" height="4.8" fill="#ff0000"/><rect x="550.34" y="302.45" width="4.8" height="4.8" fill="#ff0000"/><rect x="590.93" y="308.15" width="4.8" height="4.8" fill="#ff0000"/><rect x="631.51" y="302.9" width="4.8" height="4.8" fill="#ff0000"/><rect x="672.1" y="281.47" width="4.8" height="4.8" fill="#ff0000"/>
<polyline points="390.4,224.14 430.99,240.32 471.57,261.07 512.16,266.77 552.74,279.31 593.33,288.2 633.91,277.26 674.5,258.11" stroke="#00ff00" stroke-width="2.0" fill="none" stroke-linejoin="round"/>
<rect x="388" y="221.74" width="4.8" height="4.8" fill="#00ff00"/><rect x="428.59" y="237.92" width="4.8" height="4.8" fill="#00ff00"/><rect x="469.17" y="258.67" width="4.8" height="4.8" fill="#00ff00"/><rect x="509.76" y="264.37" width="4.8" height="4.8" fill="#00ff00"/><rect x="550.34" y="276.91" width="4.8" height="4.8" fill="#00ff00"/><rect x="590.93" y="285.8" width="4.8" height="4.8" fill="#00ff00"/><rect x="631.51" y="274.86" width="4.8" height="4.8" fill="#00ff00"/><rect x="672.1" y="255.71" width="4.8" height="4.8" fill="#00ff00"/>
<polyline points="390.4,233.48 430.99,280.22 471.57,279.31 512.16,285.01 552.74,274.52 593.33,302.11 633.91,298.69 674.5,282.05" stroke="#000000" stroke-width="2.0" fill="none" stroke-linejoin="round"/>
<rect x="388" y="231.08" width="4.8" height="4.8" fill="#000000"/><rect x="428.59" y="277.82" width="4.8" height="4.8" fill="#000000"/><rect x="469.17" y="276.91" width="4.8" height="4.8" fill="#000000"/><rect x="509.76" y="282.61" width="4.8" height="4.8" fill="#000000"/><rect x="550.34" y="272.12" width="4.8" height="4.8" fill="#000000"/><rect x="590.93" y="299.71" width="4.8" height="4.8" fill="#000000"/><rect x="631.51" y="296.29" width="4.8" height="4.8" fill="#000000"/><rect x="672.1" y="279.65" width="4.8" height="4.8" fill="#000000"/>
<polyline points="390.4,266.87 394.46,268.37 398.52,269.83 402.58,271.26 406.63,272.66 410.69,274.03 414.75,275.37 418.81,276.67 422.87,277.94 426.93,279.18 430.99,280.39 435.04,281.56 439.1,282.71 443.16,283.81 447.22,284.89 451.28,285.94 455.34,286.95 459.4,287.93 463.45,288.87 467.51,289.79 471.57,290.67 475.63,291.52 479.69,292.34 483.75,293.12 487.81,293.88 491.86,294.6 495.92,295.28 499.98,295.94 504.04,296.56 508.1,297.15 512.16,297.71 516.22,298.24 520.27,298.73 524.33,299.19 528.39,299.62 532.45,300.02 536.51,300.38 540.57,300.71 544.63,301.01 548.68,301.28 552.74,301.51 556.8,301.71 560.86,301.88 564.92,302.02 568.98,302.12 573.04,302.2 577.09,302.24 581.15,302.24 585.21,302.22 589.27,302.16 593.33,302.07 597.39,301.95 601.45,301.79 605.5,301.61 609.56,301.39 613.62,301.14 617.68,300.85 621.74,300.53 625.8,300.19 629.86,299.8 633.91,299.39 637.97,298.94 642.03,298.46 646.09,297.95 650.15,297.41 654.21,296.83 658.27,296.22 662.32,295.58 666.38,294.91 670.44,294.21 674.5,293.47" stroke="#6b6b6b" stroke-width="1.0" stroke-dasharray="3.4 3.4" fill="none"/>
<polyline points="390.4,241.12 394.46,243.64 398.52,246.1 402.58,248.51 406.63,250.87 410.69,253.17 414.75,255.43 418.81,257.63 422.87,259.78 426.93,261.88 430.99,263.92 435.04,265.92 439.1,267.86 443.16,269.75 447.22,271.59 451.28,273.37 455.34,275.11 459.4,276.79 463.45,278.42 467.51,280 471.57,281.53 475.63,283 479.69,284.42 483.75,285.8 487.81,287.11 491.86,288.38 495.92,289.6 499.98,290.76 504.04,291.87 508.1,292.93 512.16,293.94 516.22,294.89 520.27,295.8 524.33,296.65 528.39,297.45 532.45,298.19 536.51,298.89 540.57,299.53 544.63,300.12 548.68,300.66 552.74,301.15 556.8,301.59 560.86,301.97 564.92,302.3 568.98,302.58 573.04,302.81 577.09,302.99 581.15,303.11 585.21,303.18 589.27,303.2 593.33,303.17 597.39,303.09 601.45,302.95 605.5,302.76 609.56,302.52 613.62,302.23 617.68,301.89 621.74,301.49 625.8,301.05 629.86,300.55 633.91,299.99 637.97,299.39 642.03,298.74 646.09,298.03 650.15,297.27 654.21,296.46 658.27,295.6 662.32,294.68 666.38,293.71 670.44,292.69 674.5,291.62" stroke="#6b6b6b" stroke-width="1.0" stroke-dasharray="3.4 3.4" fill="none"/>
<polyline points="390.4,220.17 394.46,222.78 398.52,225.33 402.58,227.82 406.63,230.25 410.69,232.63 414.75,234.95 418.81,237.21 422.87,239.41 426.93,241.56 430.99,243.64 435.04,245.67 439.1,247.64 443.16,249.56 447.22,251.41 451.28,253.21 455.34,254.95 459.4,256.63 463.45,258.26 467.51,259.83 471.57,261.34 475.63,262.79 479.69,264.18 483.75,265.52 487.81,266.8 491.86,268.02 495.92,269.18 499.98,270.29 504.04,271.34 508.1,272.33 512.16,273.26 516.22,274.13 520.27,274.95 524.33,275.71 528.39,276.41 532.45,277.05 536.51,277.64 540.57,278.17 544.63,278.64 548.68,279.05 552.74,279.41 556.8,279.7 560.86,279.94 564.92,280.12 568.98,280.25 573.04,280.31 577.09,280.32 581.15,280.27 585.21,280.17 589.27,280 593.33,279.78 597.39,279.5 601.45,279.16 605.5,278.77 609.56,278.31 613.62,277.8 617.68,277.23 621.74,276.61 625.8,275.92 629.86,275.18 633.91,274.38 637.97,273.52 642.03,272.61 646.09,271.64 650.15,270.61 654.21,269.52 658.27,268.37 662.32,267.17 666.38,265.91 670.44,264.59 674.5,263.21" stroke="#6b6b6b" stroke-width="1.0" stroke-dasharray="3.4 3.4" fill="none"/>
<polyline points="390.4,244.24 394.46,246.28 398.52,248.27 402.58,250.23 406.63,252.14 410.69,254.01 414.75,255.84 418.81,257.62 422.87,259.37 426.93,261.07 430.99,262.73 435.04,264.34 439.1,265.92 443.16,267.45 447.22,268.94 451.28,270.39 455.34,271.8 459.4,273.16 463.45,274.48 467.51,275.76 471.57,277 475.63,278.19 479.69,279.35 483.75,280.46 487.81,281.53 491.86,282.55 495.92,283.54 499.98,284.48 504.04,285.38 508.1,286.24 512.16,287.05 516.22,287.83 520.27,288.56 524.33,289.25 528.39,289.89 532.45,290.5 536.51,291.06 540.57,291.58 544.63,292.06 548.68,292.5 552.74,292.89 556.8,293.24 560.86,293.55 564.92,293.82 568.98,294.04 573.04,294.22 577.09,294.37 581.15,294.46 585.21,294.52 589.27,294.53 593.33,294.51 597.39,294.44 601.45,294.32 605.5,294.17 609.56,293.97 613.62,293.73 617.68,293.45 621.74,293.13 625.8,292.76 629.86,292.36 633.91,291.91 637.97,291.41 642.03,290.88 646.09,290.3 650.15,289.69 654.21,289.02 658.27,288.32 662.32,287.58 666.38,286.79 670.44,285.96 674.5,285.09" stroke="#6b6b6b" stroke-width="1.0" stroke-dasharray="3.4 3.4" fill="none"/>
<circle cx="580.04" cy="302.25" r="4.1" fill="#0000ff" stroke="#ffff00" stroke-width="2.3"/>
<circle cx="588.81" cy="303.2" r="4.1" fill="#ff0000" stroke="#ffff00" stroke-width="2.3"/>
<circle cx="575.67" cy="280.33" r="4.1" fill="#00ff00" stroke="#ffff00" stroke-width="2.3"/>
<circle cx="588.6" cy="294.54" r="4.1" fill="#000000" stroke="#ffff00" stroke-width="2.3"/>
<rect x="400.5" y="207.4" width="263.6" height="20.8" fill="#fff" stroke="#6e6e6e" stroke-width="1"/><path d="M403 213.25h26.2" stroke="#0000ff" stroke-width="2.0"/><rect x="414" y="210.75" width="5" height="5" fill="#0000ff"/><text class="lg" transform="translate(431.7 216.05) scale(1 1.07)" font-size="7.1" fill="#3c3c3c">20% Damage</text><path d="M403 222.75h26.2" stroke="#ff0000" stroke-width="2.0"/><rect x="414" y="220.25" width="5" height="5" fill="#ff0000"/><text class="lg" transform="translate(431.7 225.55) scale(1 1.07)" font-size="7.1" fill="#3c3c3c">40% Damage</text><path d="M479.8 213.25h26.2" stroke="#00ff00" stroke-width="2.0"/><rect x="490.8" y="210.75" width="5" height="5" fill="#00ff00"/><text class="lg" transform="translate(508.5 216.05) scale(1 1.07)" font-size="7.1" fill="#3c3c3c">60% Damage</text><path d="M479.8 222.75h26.2" stroke="#000000" stroke-width="2.0"/><rect x="490.8" y="220.25" width="5" height="5" fill="#000000"/><text class="lg" transform="translate(508.5 225.55) scale(1 1.07)" font-size="7.1" fill="#3c3c3c">80% Damage</text><path d="M556.3 213.25h24.6" stroke="#6b6b6b" stroke-width="1.0" stroke-dasharray="3.4 3.4"/><text class="lg" transform="translate(585.3 216.05) scale(1 1.07)" font-size="7.1" fill="#3c3c3c">Parabolic Approximation</text>
</g></svg>
</body></html>
